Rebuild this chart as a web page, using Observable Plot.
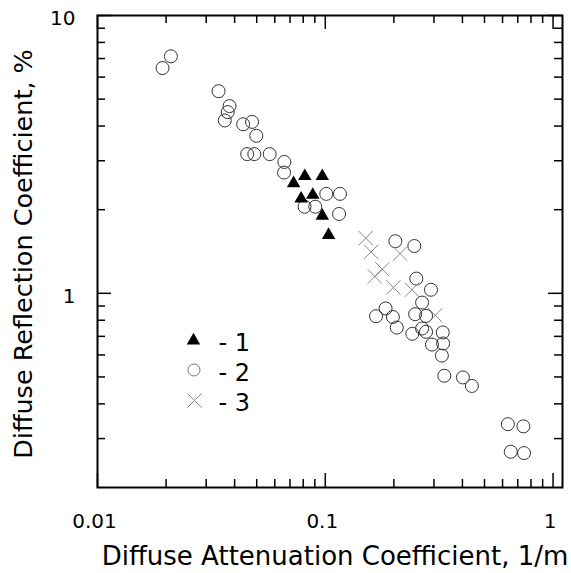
<!DOCTYPE html>
<html><head><meta charset="utf-8">
<script src="https://cdn.jsdelivr.net/npm/d3@7"></script>
<script src="https://cdn.jsdelivr.net/npm/@observablehq/plot@0.6"></script>
<style>body{margin:0;background:#fff}#chart svg{display:block}</style>
</head><body><div id="chart"></div>
<script>
// Series 1 (filled triangles)
const triangleX = [0.0726, 0.0813, 0.0970, 0.0783, 0.0881, 0.0970, 0.1034];
const triangleY = [2.49, 2.64, 2.64, 2.19, 2.26, 1.90, 1.62];
// Series 2 (open circles)
const circleX = [0.0193, 0.0210, 0.0340, 0.0380, 0.0373, 0.0362, 0.0436, 0.0477, 0.0498, 0.0454,
  0.0488, 0.0570, 0.0661, 0.0659, 0.101, 0.116, 0.0811, 0.0904, 0.115, 0.203,
  0.246, 0.251, 0.291, 0.266, 0.167, 0.184, 0.198, 0.206, 0.248, 0.277,
  0.266, 0.277, 0.241, 0.328, 0.294, 0.329, 0.325, 0.333, 0.402, 0.440,
  0.633, 0.741, 0.652, 0.746];
const circleY = [6.47, 7.13, 5.34, 4.72, 4.49, 4.19, 4.06, 4.14, 3.69, 3.17,
  3.17, 3.17, 2.97, 2.72, 2.28, 2.28, 2.05, 2.05, 1.93, 1.54,
  1.48, 1.13, 1.03, 0.926, 0.827, 0.882, 0.822, 0.753, 0.841, 0.829,
  0.747, 0.727, 0.715, 0.723, 0.654, 0.660, 0.597, 0.505, 0.498, 0.464,
  0.338, 0.332, 0.269, 0.266];
// Series 3 (gray crosses)
const crossX = [0.1505, 0.159, 0.178, 0.165, 0.199, 0.213, 0.240, 0.304];
const crossY = [1.58, 1.41, 1.22, 1.15, 1.05, 1.39, 1.03, 0.834];

// Axes
const xMajor = [0.01, 0.1, 1];
const xTickLabels = ["0.01", "0.1", "1"];
const xMinor = [0.02,0.03,0.04,0.05,0.06,0.07,0.08,0.09,0.2,0.3,0.4,0.5,0.6,0.7,0.8,0.9];
const yMajor = [1, 10];
const yTickLabels = ["1", "10"];
const yMinor = [0.3,0.4,0.5,0.6,0.7,0.8,0.9,2,3,4,5,6,7,8,9];
const xTitle = "Diffuse Attenuation Coefficient, 1/m";
const yTitle = "Diffuse Reflection Coefficient, %";
const legendLabels = ["- 1", "- 2", "- 3"];

const zip = (xs, ys) => xs.map((x, i) => ({x, y: ys[i]}));
const tri = zip(triangleX, triangleY);
const circ = zip(circleX, circleY);
const cross = zip(crossX, crossY);

const width = 571, height = 573;
const mL = 97, mR = 9, mT = 15, mB = 86;
const W = width - mL - mR, H = height - mT - mB;
const major = 14, minor = 8;
const tickStyle = {stroke: "black", strokeWidth: 1.5};

const legendY = [325, 354.5, 385];
const legendMarks = [
  Plot.dot([0], {frameAnchor: "top-left", dx: 96, dy: legendY[0], symbol: "triangle", r: 5, fill: "black", stroke: null}),
  Plot.dot([0], {frameAnchor: "top-left", dx: 96.5, dy: legendY[1], symbol: "circle", r: 6, fill: "none", stroke: "#777", strokeWidth: 1}),
  Plot.dot([0], {frameAnchor: "top-left", dx: 97, dy: legendY[2], symbol: "times", r: 6.5, stroke: "#888", strokeWidth: 1}),
  ...legendLabels.map((t, i) => Plot.text([t], {frameAnchor: "top-left", dx: 121, dy: legendY[i] + 3, textAnchor: "start", lineAnchor: "middle", fontSize: 24, fill: "black"}))
];

const chart = Plot.plot({
  width, height,
  marginLeft: mL, marginRight: mR, marginTop: mT, marginBottom: mB,
  style: {fontFamily: "DejaVu Sans", background: "white", color: "black"},
  x: {type: "log", domain: [0.01, 1.1]},
  y: {type: "log", domain: [0.2, 10]},
  marks: [
    // inward ticks on all four sides
    Plot.ruleX(xMajor, {insetTop: H - major, ...tickStyle}),
    Plot.ruleX(xMinor, {insetTop: H - minor, ...tickStyle}),
    Plot.ruleX(xMajor, {insetBottom: H - major, ...tickStyle}),
    Plot.ruleX(xMinor, {insetBottom: H - minor, ...tickStyle}),
    Plot.ruleY(yMajor, {insetRight: W - major, ...tickStyle}),
    Plot.ruleY(yMinor, {insetRight: W - minor, ...tickStyle}),
    Plot.ruleY(yMajor, {insetLeft: W - major, ...tickStyle}),
    Plot.ruleY(yMinor, {insetLeft: W - minor, ...tickStyle}),
    Plot.axisX(xMajor, {anchor: "bottom", tickSize: 0, tickPadding: 26, label: null, fontSize: 20, dx: -3,
      tickFormat: d => xTickLabels[xMajor.indexOf(d)]}),
    Plot.axisY(yMajor, {anchor: "left", tickSize: 0, tickPadding: 22, label: null, fontSize: 20, dy: 3,
      tickFormat: d => yTickLabels[yMajor.indexOf(d)]}),
    Plot.text([xTitle], {frameAnchor: "bottom", dx: 5, dy: 77, textAnchor: "middle", lineAnchor: "bottom", fontSize: 26, fill: "black"}),
    Plot.text([yTitle], {frameAnchor: "left", dx: -66, dy: 2.5, rotate: -90, textAnchor: "middle", lineAnchor: "bottom", fontSize: 25.5, fill: "black"}),
    // data
    Plot.dot(circ, {x: "x", y: "y", symbol: "circle", r: 6.5, fill: "none", stroke: "#333", strokeWidth: 1}),
    Plot.dot(tri, {x: "x", y: "y", symbol: "triangle", r: 5, fill: "black", stroke: null}),
    Plot.dot(cross, {x: "x", y: "y", symbol: "times", r: 6.5, stroke: "#888", strokeWidth: 1}),
    ...legendMarks,
    Plot.frame({stroke: "black", strokeWidth: 2})
  ]
});
document.getElementById("chart").appendChild(chart);
</script>
</body></html>
